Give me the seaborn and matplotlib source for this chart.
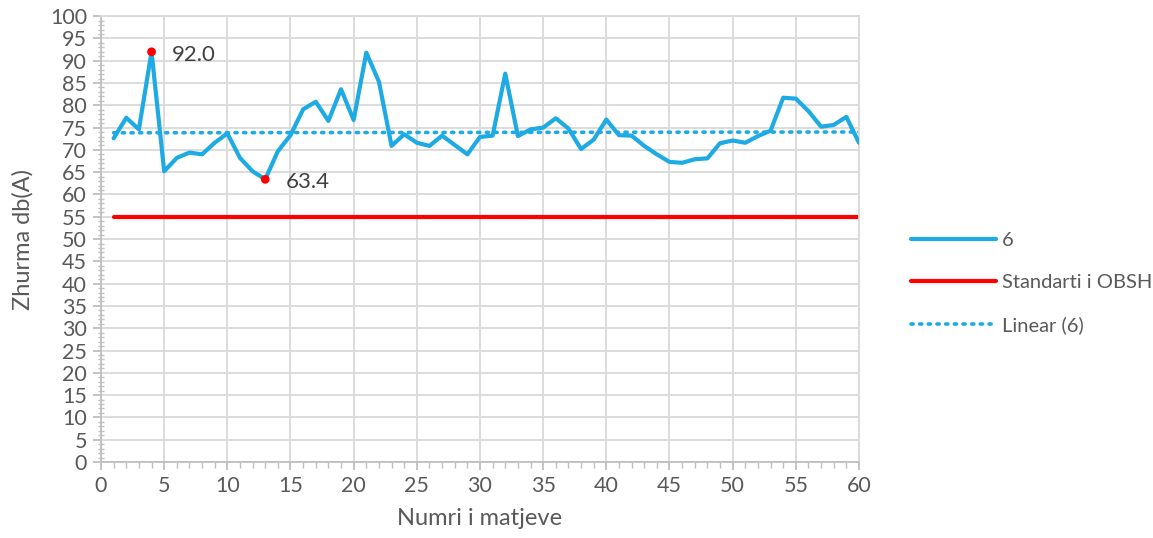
import numpy as np
import pandas as pd
import matplotlib
matplotlib.use("Agg")
import matplotlib.pyplot as plt
from matplotlib.ticker import MultipleLocator
import seaborn as sns

# Noise measurements (dB(A)) for each of the 60 readings
measurement_no = list(range(1, 61))
noise_db = [
    72.6, 77.2, 74.6, 92.0, 65.2, 68.2, 69.4, 69.0, 71.6, 73.7,
    68.2, 65.2, 63.4, 69.7, 73.3, 79.1, 80.8, 76.5, 83.6, 76.7,
    91.8, 85.3, 70.9, 73.5, 71.6, 70.9, 73.2, 71.1, 69.0, 72.9,
    73.2, 87.1, 73.1, 74.6, 75.0, 77.1, 74.8, 70.2, 72.3, 76.8,
    73.3, 73.2, 70.9, 69.0, 67.3, 67.1, 67.9, 68.1, 71.5, 72.1,
    71.6, 73.1, 74.3, 81.7, 81.5, 78.7, 75.2, 75.6, 77.4, 71.6,
]
who_standard = 55.0
series_name = "6"
standard_name = "Standarti i OBSH"
trend_name = "Linear (6)"
x_label = "Numri i matjeve"
y_label = "Zhurma db(A)"
highlight_idx = [3, 12]  # maximum and minimum readings

df = pd.DataFrame({"n": measurement_no, "db": noise_db})
df["standard"] = who_standard
slope, intercept = np.polyfit(df["n"], df["db"], 1)
df["trend"] = intercept + slope * df["n"]

sns.set_theme(style="white")
plt.rcParams["font.family"] = ["Lato", "DejaVu Sans"]

text_color = "#595959"
grid_color = "#d9d9d9"
blue = "#1eaae3"

fig = plt.figure(figsize=(11.53, 5.38), dpi=100)
ax = fig.add_axes([0.0876, 0.1413, 0.6574, 0.8287])

sns.lineplot(data=df, x="n", y="db", ax=ax, color=blue, lw=3.0,
             label=series_name, zorder=3)
sns.lineplot(data=df, x="n", y="standard", ax=ax, color="#ff0000", lw=3.0,
             label=standard_name, zorder=2)
sns.lineplot(data=df, x="n", y="trend", ax=ax, color=blue, lw=2.6,
             linestyle=(0, (0.6, 1.8)), dash_capstyle="round",
             label=trend_name, zorder=2)

hl = df.iloc[highlight_idx]
sns.scatterplot(data=hl, x="n", y="db", ax=ax, color="#ff0000", s=40,
                edgecolor="none", zorder=4, legend=False)
for _, r in hl.iterrows():
    ax.annotate(f"{r['db']:.1f}", (r["n"], r["db"]), xytext=(15, -2),
                textcoords="offset points", fontsize=16, color="#404040",
                va="center", ha="left")

ax.set_xlim(0, 60)
ax.set_ylim(0, 100)
ax.xaxis.set_major_locator(MultipleLocator(5))
ax.xaxis.set_minor_locator(MultipleLocator(1))
ax.yaxis.set_major_locator(MultipleLocator(5))
ax.yaxis.set_minor_locator(MultipleLocator(1))
ax.grid(True, which="major", color=grid_color, lw=1.3)
ax.set_axisbelow(True)

for side in ["top", "right"]:
    ax.spines[side].set_color(grid_color)
    ax.spines[side].set_linewidth(1.3)
for side in ["left", "bottom"]:
    ax.spines[side].set_color("#bfbfbf")
    ax.spines[side].set_linewidth(1.3)

ax.tick_params(axis="both", which="major", direction="out", length=6,
               width=1.3, color="#bfbfbf", labelsize=15.5, labelcolor=text_color,
               left=True, bottom=True, pad=4)
ax.tick_params(axis="y", which="minor", direction="inout", length=5,
               width=1.0, color="#bfbfbf", left=True)
ax.tick_params(axis="x", which="minor", direction="out", length=4,
               width=1.0, color="#bfbfbf", bottom=True)

ax.set_xlabel(x_label, fontsize=17, color=text_color, labelpad=9)
ax.set_ylabel(y_label, fontsize=17, color=text_color, labelpad=12)

leg = ax.legend(loc="center left", bbox_to_anchor=(1.058, 0.401), frameon=False,
                fontsize=14.5, labelcolor=text_color, handlelength=4.2,
                handletextpad=0.3, labelspacing=1.25, borderaxespad=0)

fig.savefig("out.png", dpi=100)
